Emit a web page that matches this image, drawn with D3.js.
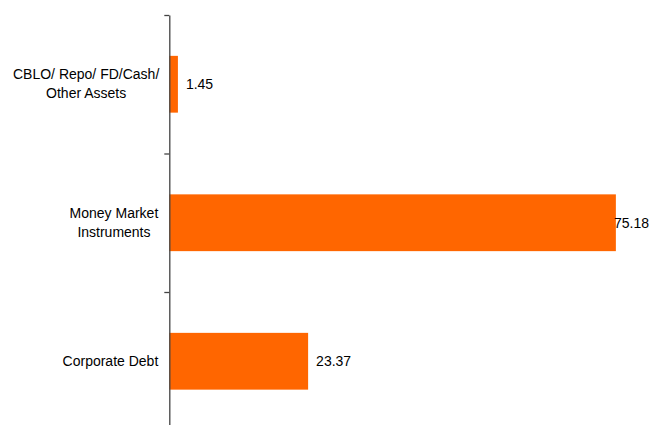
<!DOCTYPE html>
<html>
<head>
<meta charset="utf-8">
<script src="https://cdn.jsdelivr.net/npm/d3@7"></script>
<style>
  html, body { margin: 0; padding: 0; background: #fff; }
  svg { display: block; }
  text { font-family: "Liberation Sans", Arial, sans-serif; fill: #000; }
</style>
</head>
<body>
<svg id="chart" width="650" height="425"></svg>
<script>
// Asset allocation (% of net assets)
const categories = ["CBLO/ Repo/ FD/Cash/ Other Assets", "Money Market Instruments", "Corporate Debt"];
const values = [1.45, 75.18, 23.37];
const valueLabels = ["1.45", "75.18", "23.37"];

const W = 650, H = 425;
const axisX = 169.3;
const plotTop = 15, plotBottom = 430.5;
const barColor = "#FF6600";

const svg = d3.select("#chart");

const x = d3.scaleLinear().domain([0, 80]).range([axisX, axisX + 80 * 5.94]);
const y = d3.scaleBand().domain(categories).range([plotTop, plotBottom])
  .paddingInner(0.59).paddingOuter(0.295);

// category boundaries carry the tick marks
const edges = d3.scaleLinear().domain([0, categories.length]).range([plotTop, plotBottom]);

// bars
svg.append("g").selectAll("rect")
  .data(categories)
  .join("rect")
  .attr("x", x(0))
  .attr("y", d => y(d))
  .attr("width", (d, i) => x(values[i]) - x(0))
  .attr("height", y.bandwidth())
  .attr("fill", barColor);

// vertical axis
const axis = svg.append("g")
  .attr("transform", `translate(${axisX},0)`)
  .call(d3.axisLeft(edges).tickValues(d3.range(categories.length + 1))
    .tickFormat("").tickSizeInner(5).tickSizeOuter(0));
axis.select(".domain").attr("stroke", "#444").attr("stroke-width", 1.3);
axis.selectAll(".tick line").attr("stroke", "#444").attr("stroke-width", 1.3);

// category labels: wrapped, lines centred, block set against the axis
const fontSize = 14, lineH = 19, wrapW = 155, gap = 11, leftLimit = 13;
const labelG = svg.append("g");
categories.forEach(cat => {
  const t = labelG.append("text").attr("font-size", fontSize).attr("text-anchor", "middle");
  const words = cat.split(" ");
  const lines = [];
  let cur = [];
  const probe = svg.append("text").attr("font-size", fontSize);
  words.forEach(w => {
    const test = cur.concat([w]).join(" ");
    probe.text(test);
    if (cur.length && probe.node().getComputedTextLength() > wrapW) {
      lines.push(cur.join(" "));
      cur = [w];
    } else cur.push(w);
  });
  lines.push(cur.join(" "));
  let blockW = 0;
  lines.forEach(l => { probe.text(l); blockW = Math.max(blockW, probe.node().getComputedTextLength()); });
  probe.remove();
  let left = axisX - gap - blockW;
  if (left < leftLimit) left = leftLimit;
  const cx = left + blockW / 2;
  const cy = y(cat) + y.bandwidth() / 2;
  const firstBase = cy + 4.5 - (lines.length - 1) * lineH / 2;
  lines.forEach((l, i) => {
    t.append("tspan").attr("x", cx).attr("y", firstBase + i * lineH).text(l);
  });
});

// value labels at the bar ends, kept inside the chart area
const valG = svg.append("g");
categories.forEach((cat, i) => {
  const t = valG.append("text").attr("font-size", fontSize)
    .attr("y", y(cat) + y.bandwidth() / 2 + 5)
    .text(valueLabels[i]);
  const w = t.node().getComputedTextLength();
  let tx = x(values[i]) + 8;
  if (tx + w > W - 1) tx = W - 1 - w;
  t.attr("x", tx);
});
</script>
</body>
</html>
